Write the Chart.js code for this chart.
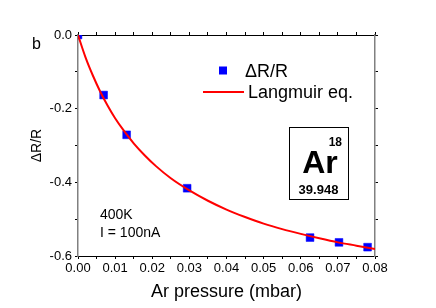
<!DOCTYPE html>
<html><head><meta charset="utf-8">
<script src="https://cdn.jsdelivr.net/npm/chart.js@4/dist/chart.umd.min.js"></script>
<style>html,body{margin:0;padding:0;background:#fff}#wrap{width:436px;height:308px;position:relative}</style>
</head><body><div id="wrap"><canvas id="c" width="436" height="308"></canvas></div>
<script>
// measured data (ΔR/R vs Ar pressure)
const pressure = [0, 0.0069, 0.0131, 0.0294, 0.0625, 0.0703, 0.0780];
const deltaR   = [0, -0.163, -0.271, -0.416, -0.550, -0.563, -0.576];
// Langmuir fit curve
const fitPressure = [0, 0.002, 0.004, 0.006, 0.008, 0.010, 0.012, 0.015, 0.018, 0.021, 0.025, 0.030, 0.035, 0.040, 0.045, 0.050, 0.055, 0.060, 0.065, 0.070, 0.075, 0.080];
const fitDeltaR   = [0, -0.060, -0.110, -0.154, -0.192, -0.226, -0.255, -0.294, -0.327, -0.356, -0.389, -0.422, -0.450, -0.474, -0.494, -0.512, -0.527, -0.540, -0.552, -0.563, -0.572, -0.581];
// tick labels
const xTickLabels = ['0.00','0.01','0.02','0.03','0.04','0.05','0.06','0.07','0.08'];
const yTickLabels = ['0.0','-0.2','-0.4','-0.6'];
const legendLabels = ['ΔR/R', 'Langmuir eq.'];
const notes = ['400K', 'I = 100nA'];

const FONT = "'Liberation Sans', Arial, Helvetica, sans-serif";

const annot = {
  id: 'annot',
  afterDraw(chart) {
    const ctx = chart.ctx;
    ctx.save();
    ctx.fillStyle = '#000';
    // panel letter
    ctx.font = '16px ' + FONT;
    ctx.textAlign = 'left'; ctx.textBaseline = 'alphabetic';
    ctx.fillText('b', 32, 49);
    // legend
    ctx.fillStyle = '#0000ff';
    ctx.fillRect(219, 66.5, 8, 8);
    ctx.strokeStyle = '#ff0000'; ctx.lineWidth = 2;
    ctx.beginPath(); ctx.moveTo(203, 92); ctx.lineTo(244, 92); ctx.stroke();
    ctx.fillStyle = '#000';
    ctx.font = '18px ' + FONT;
    ctx.textBaseline = 'alphabetic';
    ctx.fillText(legendLabels[0], 245, 77);
    ctx.fillText(legendLabels[1], 248, 98);
    // notes
    ctx.font = '14px ' + FONT;
    ctx.fillText(notes[0], 100, 218.5);
    ctx.fillText(notes[1], 100, 237);
    // element box
    ctx.strokeStyle = '#000'; ctx.lineWidth = 1;
    ctx.strokeRect(289.5, 127.5, 59, 72);
    ctx.font = 'bold 12px ' + FONT;
    ctx.textAlign = 'right';
    ctx.fillText('18', 342, 146);
    ctx.textAlign = 'center';
    ctx.font = 'bold 32px ' + FONT;
    ctx.fillText('Ar', 320, 173);
    ctx.font = 'bold 13px ' + FONT;
    ctx.fillText('39.948', 318.5, 194);
    ctx.restore();
  }
};

const gridOpts = { drawOnChartArea: false, drawTicks: true, tickLength: 3, color: '#000', lineWidth: 1 };

new Chart(document.getElementById('c'), {
  type: 'scatter',
  data: {
    datasets: [
      {
        label: legendLabels[1],
        data: fitPressure.map((x, i) => ({ x, y: fitDeltaR[i] })),
        showLine: true,
        borderColor: '#ff0000',
        borderWidth: 2,
        pointRadius: 0,
        cubicInterpolationMode: 'monotone',
        clip: 0
      },
      {
        label: legendLabels[0],
        data: pressure.map((x, i) => ({ x, y: deltaR[i] })),
        showLine: false,
        pointStyle: 'rect',
        pointRadius: 5.5,
        backgroundColor: '#0000ff',
        borderColor: '#0000ff',
        borderWidth: 0.5,
        clip: 0
      }
    ]
  },
  options: {
    responsive: false,
    animation: false,
    devicePixelRatio: 1,
    layout: { padding: 0 },
    plugins: { legend: { display: false }, tooltip: { enabled: false } },
    scales: {
      x: {
        type: 'linear', position: 'bottom', min: 0, max: 0.08,
        ticks: {
          stepSize: 0.005, autoSkip: false, maxRotation: 0, padding: 2, color: '#000',
          font: { family: FONT, size: 13 },
          callback: (v, i) => (i % 2 === 0 ? xTickLabels[i / 2] : '')
        },
        grid: gridOpts,
        border: { display: true, color: '#000', width: 1 },
        title: { display: true, text: 'Ar pressure (mbar)', color: '#000',
          font: { family: FONT, size: 18 }, padding: { top: 0, bottom: 5 } },
        afterFit(s) { s.height = 52; }
      },
      x2: {
        type: 'linear', position: 'top', min: 0, max: 0.08,
        ticks: { display: false, stepSize: 0.005, autoSkip: false },
        grid: gridOpts,
        border: { display: true, color: '#000', width: 1 },
        afterFit(s) { s.height = 35; }
      },
      y: {
        type: 'linear', position: 'left', min: -0.6, max: 0,
        ticks: {
          stepSize: 0.1, autoSkip: false, padding: 3, color: '#000',
          font: { family: FONT, size: 13 },
          callback: (v) => {
            const k = Math.round(-v * 10);
            return k % 2 === 0 ? yTickLabels[k / 2] : '';
          }
        },
        grid: gridOpts,
        border: { display: true, color: '#808080', width: 1.5 },
        title: { display: true, text: 'ΔR/R', color: '#000',
          font: { family: FONT, size: 14 }, padding: { top: 28.6, bottom: 0 } },
        afterFit(s) { s.width = 78; }
      },
      y2: {
        type: 'linear', position: 'right', min: -0.6, max: 0,
        ticks: { display: false, stepSize: 0.1, autoSkip: false },
        grid: gridOpts,
        border: { display: true, color: '#808080', width: 1.5 },
        afterFit(s) { s.width = 61; }
      }
    }
  },
  plugins: [annot]
});
</script>
</body></html>
